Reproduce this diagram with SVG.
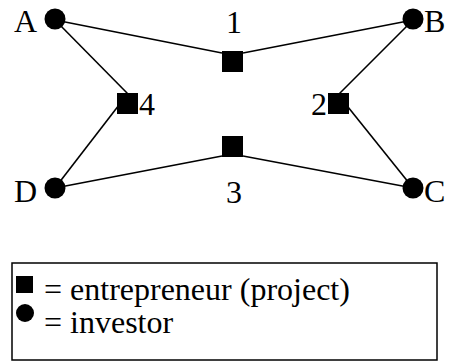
<svg xmlns="http://www.w3.org/2000/svg" width="449" height="362" viewBox="0 0 449 362">
<style>
text{font-family:'Liberation Serif','DejaVu Serif','Times New Roman',serif;font-size:32px;fill:#000}
.e{stroke:#000;stroke-width:1.6;fill:none}
.sq{fill:#000}
.inv{fill:#000}
</style>
<rect width="449" height="362" fill="#fff"/>
<g id="connectors">
<line class="e" x1="55" y1="20" x2="222" y2="53"/>
<line class="e" x1="413" y1="20" x2="243" y2="53"/>
<line class="e" x1="55" y1="188" x2="222" y2="156"/>
<line class="e" x1="413" y1="188" x2="243" y2="156"/>
<line class="e" x1="55" y1="20" x2="128" y2="94"/>
<line class="e" x1="55" y1="188" x2="119" y2="105"/>
<line class="e" x1="413" y1="20" x2="339" y2="94"/>
<line class="e" x1="413" y1="188" x2="348" y2="107"/>
</g>
<g id="A"><circle class="inv" cx="55" cy="19" r="10.5"/><text font-family="Liberation Serif, serif" x="14" y="32">A</text></g>
<g id="B"><circle class="inv" cx="413" cy="19" r="10.5"/><text font-family="Liberation Serif, serif" x="424" y="32">B</text></g>
<g id="C"><circle class="inv" cx="413" cy="188" r="10.5"/><text font-family="Liberation Serif, serif" x="424" y="202">C</text></g>
<g id="D"><circle class="inv" cx="55" cy="188" r="10.5"/><text font-family="Liberation Serif, serif" x="14" y="202">D</text></g>
<g id="n1"><rect class="sq" x="222" y="51" width="21" height="21"/><text font-family="Liberation Serif, serif" x="234" y="33" text-anchor="middle">1</text></g>
<g id="n2"><rect class="sq" x="328" y="93" width="21" height="21"/><text font-family="Liberation Serif, serif" x="327" y="115" text-anchor="end">2</text></g>
<g id="n3"><rect class="sq" x="222" y="136" width="21" height="21"/><text font-family="Liberation Serif, serif" x="234" y="203" text-anchor="middle">3</text></g>
<g id="n4"><rect class="sq" x="117" y="93" width="21" height="21"/><text font-family="Liberation Serif, serif" x="139" y="115">4</text></g>
<g id="legend">
<rect x="12" y="263" width="425" height="97" fill="none" stroke="#000" stroke-width="1.5"/>
<rect class="sq" x="16" y="276" width="17" height="17"/>
<text font-family="Liberation Serif, serif" x="44" y="300">= entrepreneur (project)</text>
<circle class="inv" cx="25" cy="313" r="9"/>
<text font-family="Liberation Serif, serif" x="44" y="333">= investor</text>
</g>
</svg>
